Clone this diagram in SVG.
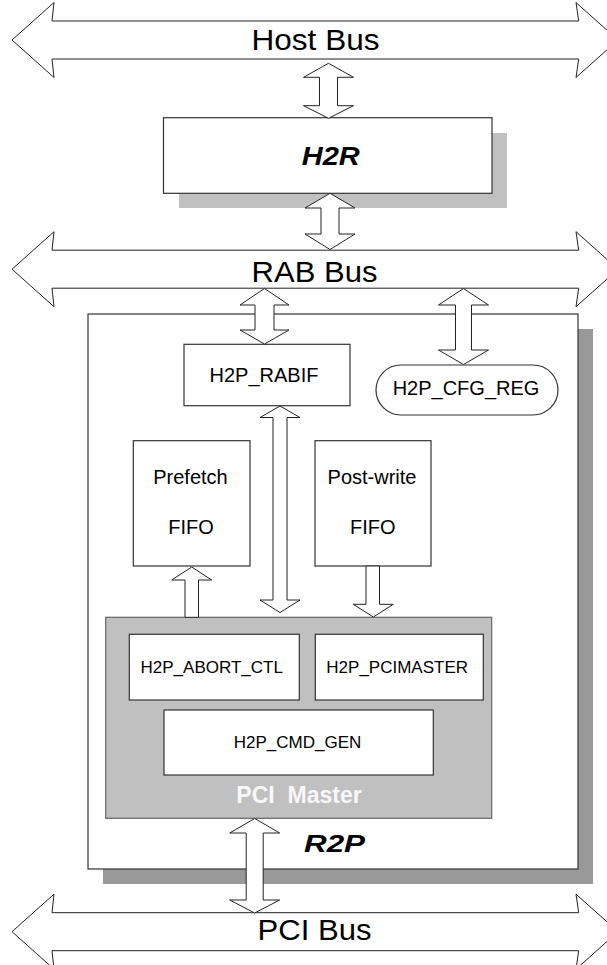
<svg xmlns="http://www.w3.org/2000/svg" width="607" height="965" viewBox="0 0 607 965">
<style>
.bus{fill:#fff;stroke:#222;stroke-width:1}
.box{fill:#fff;stroke:#333;stroke-width:1.2}
.arr{fill:#fff;stroke:#222;stroke-width:1}
.t{font-family:"Liberation Sans",Arial,sans-serif;fill:#000;text-anchor:middle}
.big{font-size:29px}
.mid{font-size:20px}
.sm{font-size:17px}
.bi{font-weight:bold;font-style:italic}
</style>
<rect width="607" height="965" fill="#fff"/>
<g id="host-bus">
<polygon class="bus" points="12,40 54,2.5 52,21 578.7,21 576,2.5 618,40 576,77.5 578.7,59 52,59 54,77.5"/>
<text class="t big" x="315.5" y="50" textLength="128" lengthAdjust="spacingAndGlyphs">Host Bus</text>
</g>
<g id="h2r">
<rect x="179" y="133" width="328" height="75" fill="#c0c0c0"/>
<rect class="box" x="163.5" y="117.7" width="328.5" height="75.6"/>
<text class="t bi" style="font-size:26px" x="330.8" y="165" textLength="58" lengthAdjust="spacingAndGlyphs">H2R</text>
</g>
<g id="rab-bus">
<polygon class="bus" points="12,269.2 54,231.7 52,250.2 578.7,250.2 576,231.7 618,269.2 576,306.7 578.7,288.2 52,288.2 54,306.7"/>
<text class="t big" x="314.5" y="282" textLength="126" lengthAdjust="spacingAndGlyphs">RAB Bus</text>
</g>
<g id="r2p">
<rect x="103" y="329" width="490" height="555" fill="#999"/>
<rect class="box" x="88" y="314" width="490" height="555"/>
<text class="t bi" style="font-size:24px" x="334.5" y="852" textLength="61" lengthAdjust="spacingAndGlyphs">R2P</text>
</g>
<g id="h2p-rabif">
<rect class="box" x="184" y="344.3" width="166" height="61.4"/>
<text class="t mid" x="264" y="381.7">H2P_RABIF</text>
</g>
<g id="h2p-cfg-reg">
<rect class="box" x="376" y="365" width="182" height="50" rx="25" ry="25"/>
<text class="t mid" x="466" y="395">H2P_CFG_REG</text>
</g>
<g id="prefetch-fifo">
<rect class="box" x="133.3" y="440.7" width="116.7" height="125.3"/>
<text class="t mid" x="190.5" y="484">Prefetch</text>
<text class="t mid" x="191" y="534">FIFO</text>
</g>
<g id="postwrite-fifo">
<rect class="box" x="315" y="440.7" width="116" height="125.3"/>
<text class="t mid" x="372" y="484">Post-write</text>
<text class="t mid" x="372.7" y="534">FIFO</text>
</g>
<g id="pci-master">
<rect x="105.7" y="617.3" width="386" height="201" fill="#c0c0c0" stroke="#666" stroke-width="1.2"/>
<text class="t" style="font-size:23px;font-weight:bold;fill:#f8f8f8" x="299" y="803.3" xml:space="preserve">PCI  Master</text>
</g>
<g id="h2p-abort-ctl">
<rect class="box" x="129.3" y="634.3" width="170" height="65.7"/>
<text class="t sm" x="211.7" y="673.3">H2P_ABORT_CTL</text>
</g>
<g id="h2p-pcimaster">
<rect class="box" x="315.3" y="634.3" width="168" height="65.7"/>
<text class="t sm" x="397.2" y="673.3">H2P_PCIMASTER</text>
</g>
<g id="h2p-cmd-gen">
<rect class="box" x="164" y="710" width="269.3" height="65"/>
<text class="t sm" x="297.5" y="748.3">H2P_CMD_GEN</text>
</g>
<g id="pci-bus">
<polygon class="bus" points="12,931.7 54,894.2 52,912.7 578.7,912.7 576,894.2 618,931.7 576,969.2 578.7,950.7 52,950.7 54,969.2"/>
<text class="t big" x="314.6" y="940" textLength="114" lengthAdjust="spacingAndGlyphs">PCI Bus</text>
</g>
<g id="connectors">
<polygon class="arr" points="328.5,63.3 353.5,77.3 337.5,77.3 337.5,105.7 353.5,105.7 328.5,118.3 303.5,105.7 319.5,105.7 319.5,77.3 303.5,77.3"/>
<polygon class="arr" points="330,193.3 355,208 339,208 339,234 355,234 330,249.5 305,234 321,234 321,208 305,208"/>
<polygon class="arr" points="264.5,288.5 289,305 274,305 274,330 289,330 264.5,344 240,330 255,330 255,305 240,305"/>
<polygon class="arr" points="463.5,288.5 488.5,305 471.5,305 471.5,350 488.5,350 463.5,364.5 438.5,350 455.5,350 455.5,305 438.5,305"/>
<polygon class="arr" points="280,406 300,417.5 287,417.5 287,600 300,600 280,612.5 260,600 273,600 273,417.5 260,417.5"/>
<polygon class="arr" points="191.7,567 211.7,580 198.5,580 198.5,617.3 185,617.3 185,580 171.7,580"/>
<polygon class="arr" points="366,566 379.5,566 379.5,604.3 393.3,604.3 373.3,617 353.3,604.3 366,604.3"/>
<polygon class="arr" points="254.7,818.5 279.7,833 263.2,833 263.2,900 279.7,900 254.7,913 229.7,900 246.2,900 246.2,833 229.7,833"/>
</g>
</svg>
